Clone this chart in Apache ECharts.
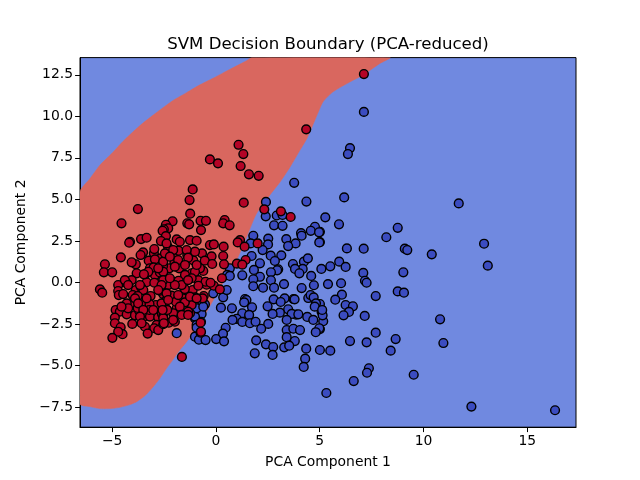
<!DOCTYPE html>
<html><head><meta charset="utf-8">
<style>html,body{margin:0;padding:0;background:#fff}#c{width:640px;height:480px}</style>
<script src="https://cdn.jsdelivr.net/npm/echarts@6/dist/echarts.min.js"></script>
</head><body><div id="c"></div>
<script>
const xTicks=[-5,0,5,10,15];
const yTicks=[-7.5,-5,-2.5,0,2.5,5,7.5,10,12.5];
const redRegion=[[-6.55,5.46],[-6.07,6.25],[-5.59,7.06],[-5.02,7.76],[-4.47,8.50],[-3.99,9.07],[-3.50,9.61],[-2.70,10.38],[-2.06,10.96],[-1.41,11.43],[-0.77,11.90],[-0.13,12.30],[0.67,12.83],[1.48,13.35],[1.72,13.54],[8.39,13.54],[7.90,13.19],[7.09,12.49],[6.46,12.08],[5.64,11.48],[5.16,10.88],[4.77,9.78],[4.39,8.69],[4.05,7.97],[3.57,6.95],[3.09,6.05],[2.60,5.27],[1.96,4.16],[1.48,2.75],[1.07,1.55],[0.34,-0.04],[-0.45,-1.76],[-1.01,-2.87],[-1.41,-3.57],[-1.74,-4.07],[-2.06,-4.63],[-2.38,-5.17],[-2.70,-5.77],[-3.02,-6.28],[-3.42,-6.82],[-3.82,-7.18],[-4.15,-7.36],[-4.63,-7.52],[-5.11,-7.60],[-5.59,-7.60],[-6.07,-7.48],[-6.55,-7.32]];
const bluePoints=[[7.13,10.27],[6.46,8.09],[6.36,7.73],[6.18,5.12],[11.70,4.76],[5.27,3.92],[5.93,3.50],[8.76,3.29],[8.21,2.72],[12.92,2.33],[6.31,2.05],[7.12,2.03],[9.10,2.03],[9.22,1.95],[10.40,1.69],[13.10,1.01],[5.94,1.25],[5.51,0.97],[6.25,0.93],[5.08,0.81],[7.10,0.57],[9.03,0.61],[7.18,0.10],[7.26,-0.02],[6.03,-0.05],[5.40,-0.10],[8.76,-0.54],[9.06,-0.62],[6.07,-0.74],[7.70,-0.82],[5.75,-1.04],[6.25,-1.36],[6.60,-1.44],[6.41,-1.78],[6.15,-1.98],[7.17,-2.02],[10.80,-2.22],[5.17,-2.34],[7.70,-3.03],[8.66,-3.41],[6.46,-3.53],[7.26,-3.61],[10.96,-3.65],[5.51,-4.11],[8.42,-4.11],[7.37,-5.17],[7.28,-5.44],[9.53,-5.56],[6.64,-5.94],[5.32,-6.66],[12.31,-7.48],[16.34,-7.70],[5.01,3.05],[5.01,2.43],[5.01,-1.30],[5.09,-1.76],[5.14,-1.98],[5.01,-2.81],[5.01,-4.07],
[3.77,6.00],[4.36,4.87],[2.41,4.85],[2.40,3.98],[2.93,4.03],[3.21,4.06],[2.80,3.44],[3.21,3.41],[4.77,3.35],[4.57,3.11],[4.97,3.02],[4.10,2.97],[4.13,2.81],[1.80,2.81],[2.52,2.64],[3.39,2.61],[3.84,2.35],[3.48,2.19],[2.51,2.29],[2.25,1.95],[4.98,2.41],[1.72,1.59],[2.64,1.61],[3.15,1.63],[2.84,1.29],[2.12,1.15],[3.71,1.11],[4.24,1.25],[4.43,1.45],[4.18,0.81],[3.81,0.81],[4.02,0.55],[1.83,0.75],[3.00,0.79],[2.95,0.73],[2.65,0.61],[0.67,0.85],[0.54,0.45],[0.67,0.39],[1.27,0.43],[2.12,0.34],[1.80,0.19],[2.65,0.13],[4.59,0.39],[3.28,-0.10],[4.72,-0.17],[1.80,-0.23],[2.27,-0.32],[2.80,-0.32],[4.13,-0.34],[0.35,-0.90],[1.40,-1.00],[1.47,-1.06],[1.36,-1.20],[2.78,-1.02],[3.31,-0.96],[3.74,-1.00],[3.79,-1.02],[3.12,-1.18],[2.49,-1.44],[1.74,-1.50],[0.77,-1.56],[0.24,-1.52],[4.45,-0.94],[4.56,-0.76],[4.71,-0.90],[4.82,-1.26],[4.76,-1.46],[5.12,-1.66],[3.48,-1.62],[3.08,-1.82],[2.73,-1.90],[1.27,-1.86],[1.60,-1.96],[3.86,-1.94],[3.65,-1.90],[3.97,-1.92],[3.41,-2.26],[4.40,-2.08],[4.69,-2.26],[1.00,-2.19],[0.80,-2.26],[1.27,-2.38],[1.64,-2.46],[1.91,-2.37],[2.52,-2.50],[2.18,-2.79],[0.47,-2.73],[3.41,-2.87],[3.73,-2.79],[4.05,-2.87],[4.98,-2.76],[4.81,-3.00],[0.34,-3.09],[0.01,-3.41],[0.39,-3.55],[3.41,-3.30],[3.80,-3.53],[1.94,-3.49],[2.41,-3.73],[2.76,-3.89],[3.29,-3.91],[3.53,-3.81],[4.35,-3.99],[1.87,-4.27],[2.73,-4.37],[4.30,-4.59],[4.23,-5.09],[1.67,2.35],[-0.69,-1.90],[-0.53,-1.32],[-0.72,-2.37],[-1.01,-2.16],[-1.01,-3.27],[-0.82,-3.45],[-1.89,-3.06],[-1.01,-2.06],[-0.93,-2.56],[-0.50,-3.47],[-0.13,-0.66],[0.52,-0.46],[-0.69,-1.10],[-0.93,-1.56],[-0.61,-1.46],[-0.93,-2.73]];
const redPoints=[[7.13,12.55],[4.35,9.22],[1.09,8.29],[1.32,7.73],[-0.29,7.41],[0.10,7.17],[1.19,7.01],[1.59,6.51],[2.06,6.42],[-1.12,5.60],[-1.27,4.96],[1.34,4.80],[-3.76,4.42],[-1.24,4.14],[-4.55,3.56],[-2.09,3.68],[-2.41,3.47],[-1.38,3.56],[-1.29,3.50],[-0.74,3.71],[-0.48,3.71],[0.42,3.76],[0.35,3.56],[0.66,3.44],[-0.72,3.15],[-2.30,3.26],[-2.51,3.20],[-2.57,3.11],[-2.41,2.79],[-4.14,2.45],[-4.18,2.39],[-3.61,2.61],[-3.34,2.69],[-2.65,2.49],[-1.89,2.59],[-1.25,2.55],[-0.93,2.51],[-1.74,2.45],[1.16,2.55],[2.33,4.40],[3.13,4.28],[3.60,3.94],[1.05,2.41],[1.38,2.15],[2.01,2.35],[-0.29,2.25],[-0.10,2.29],[0.37,2.15],[-0.67,1.75],[-0.21,1.57],[0.35,1.59],[-0.54,1.31],[-0.18,1.11],[0.39,1.09],[1.01,1.13],[1.43,1.35],[1.27,1.07],[-1.09,1.33],[-0.61,0.69],[-1.17,0.55],[-0.85,0.14],[-0.45,-0.14],[-0.10,-0.20],[0.29,0.25],[0.19,-0.42],[-1.12,-0.46],[-0.59,-0.82],[-0.50,0.04],[-0.26,-0.02],[-0.74,-3.03],[-1.17,-1.36],[-0.64,-0.96],[-1.25,-1.85],[-1.64,-4.49],
[-3.51,1.81],[-3.63,1.65],[-2.99,1.75],[-2.30,2.11],[-3.24,1.31],[-2.66,1.45],[-2.94,1.39],[-2.05,1.65],[-1.80,1.91],[-1.38,1.65],[-1.01,1.85],[-4.58,1.51],[-5.35,1.09],[-5.40,0.61],[-5.00,0.61],[-3.86,1.09],[-4.06,1.21],[-1.77,0.85],[-2.25,0.85],[-2.55,0.99],[-3.18,0.85],[-3.82,0.55],[-1.49,0.45],[-0.77,0.85],[-2.54,0.25],[-2.94,0.45],[-4.06,0.14],[-4.71,-0.16],[-4.30,-0.05],[-3.34,0.01],[-2.97,-0.02],[-2.02,0.04],[-2.30,-0.16],[-3.86,-0.46],[-5.59,-0.42],[-5.48,-0.62],[-4.71,-0.52],[-4.68,-0.76],[-4.47,-0.70],[-4.01,-0.76],[-3.15,-0.82],[-2.54,-0.70],[-2.14,-0.80],[-1.58,-0.96],[-3.53,-1.22],[-4.06,-1.30],[-2.89,-1.36],[-2.38,-1.62],[-1.89,-1.56],[-1.34,-1.76],[-4.83,-1.66],[-4.63,-1.76],[-4.30,-1.92],[-3.90,-1.98],[-4.87,-2.12],[-3.47,-2.06],[-3.18,-2.06],[-2.78,-2.10],[-2.27,-2.43],[-1.98,-2.37],[-4.87,-2.46],[-4.03,-2.50],[-3.42,-2.67],[-2.86,-2.56],[-2.97,-2.76],[-4.59,-2.70],[-4.50,-3.12],[-4.71,-2.97],[-4.99,-3.34],[-3.29,-3.08],[-0.74,-2.43],[-0.72,-2.97],
[-3.0,0.9],[-2.7,0.6],[-3.4,0.5],[-3.6,-0.3],[-2.7,-0.5],[-2.4,-1.1],[-3.2,-1.3],[-1.8,0.1],[-1.5,-0.4],[-1.0,-0.9],[-1.5,-1.2],[-2.0,1.2],[-3.7,-1.7],[-2.6,-1.9],
[-3.26,0.64],[-4.39,0.14],[-3.50,-0.46],[-3.77,-1.54],[-3.21,-1.66],[-2.54,0.64],[-2.54,0.14],[-3.77,-0.82],[-2.78,-2.87],[-2.38,2.35],[-2.06,1.95],[-1.41,1.95],[-1.82,1.35],[-2.54,1.25],[-2.46,1.75],[-1.34,1.49],[-1.01,0.64],[-1.65,-0.16],[-1.98,-0.16],[-0.85,-0.20],[-2.62,-0.16],[-2.38,-0.66],[-1.93,-1.16],[-2.62,-1.26],[-2.06,-1.86],[-2.54,-2.06],[-2.35,-1.66],
[-2.97,2.01],[-2.78,0.85],[-3.47,0.49],[-4.23,-0.16],[-3.66,-0.16],[-2.78,-0.46],[-3.90,-0.96],[-3.34,-0.96],[-4.30,-1.26],[-3.75,-1.26],[-3.02,-1.66],[-3.50,-1.66],[-4.23,-1.56],[-4.55,-1.46],[-3.66,-2.06],[-2.54,-2.16],[-2.54,-2.52],[-3.58,-2.46],[-2.22,1.55],[-1.49,1.05],[-0.93,1.05],[-1.98,0.95],[-1.17,0.25],[-2.22,0.25],[-1.34,0.14],[-1.82,-0.76],[-1.25,-0.86],[-0.93,-0.96],[-1.74,-1.46],[-2.30,-1.06],[-2.57,-1.66],[-1.65,-1.96],[-1.34,-1.96],[-2.06,-2.26],[-2.51,-2.46]];

const FONT='"DejaVu Sans"';
const minus=s=>String(s).replace('-','\u2212');
const axisCommon={
  axisLine:{onZero:false,show:true,lineStyle:{color:'#000',width:1}},
  splitLine:{show:false},
  nameLocation:'middle',
  nameTextStyle:{color:'#000',fontFamily:FONT,fontSize:13.9}
};
const chart=echarts.init(document.getElementById('c'),null,{renderer:'canvas'});
chart.setOption({
  animation:false,
  backgroundColor:'#fff',
  title:{text:'SVM Decision Boundary (PCA-reduced)',left:323,top:31,textAlign:'center',
    textStyle:{color:'#000',fontFamily:FONT,fontSize:16.6,fontWeight:'normal'}},
  grid:{left:80,right:64,top:57.6,bottom:52.8,show:true,backgroundColor:'#7089E0',borderColor:'#000',borderWidth:1,containLabel:false},
  xAxis:{type:'value',min:-6.55,max:17.35,name:'PCA Component 1',nameGap:28,...axisCommon,
    axisTick:{show:true,length:4.9,lineStyle:{color:'#000',width:1},customValues:xTicks},
    axisLabel:{color:'#000',fontFamily:FONT,fontSize:13.9,margin:7,customValues:xTicks,formatter:v=>minus(v)}},
  yAxis:{type:'value',min:-8.72,max:13.54,name:'PCA Component 2',nameGap:50,...axisCommon,
    axisTick:{show:true,length:4.9,lineStyle:{color:'#000',width:1},customValues:yTicks},
    axisLabel:{color:'#000',fontFamily:FONT,fontSize:13.9,margin:7,padding:[2,0,0,0],customValues:yTicks,formatter:v=>minus(v.toFixed(1))}},
  series:[
    {type:'custom',silent:true,z:1,clip:true,data:[0],
     renderItem:(p,api)=>({type:'polygon',shape:{points:redRegion.map(d=>api.coord(d)),smooth:0.2},style:{fill:'#D9675F',stroke:'#DE6A5E',lineWidth:0.6}})},
    {type:'scatter',z:2,data:bluePoints,symbol:'circle',symbolSize:8.8,itemStyle:{color:'#3B4CC0',borderColor:'#000',borderWidth:1.4,opacity:1}},
    {type:'scatter',z:3,data:redPoints,symbol:'circle',symbolSize:8.8,itemStyle:{color:'#B40426',borderColor:'#000',borderWidth:1.4,opacity:1}}
  ]
});
</script></body></html>
